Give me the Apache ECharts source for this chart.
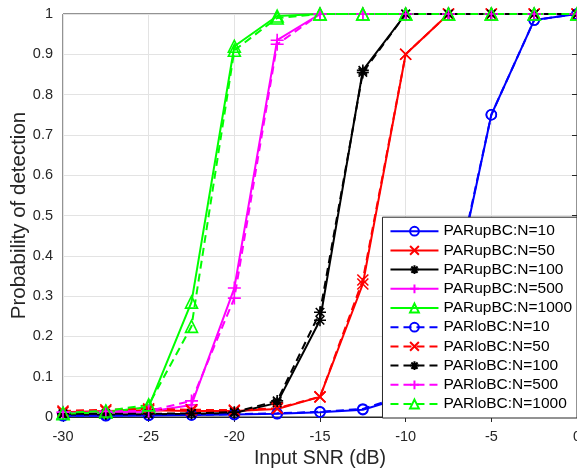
<!DOCTYPE html>
<html>
<head>
<meta charset="utf-8">
<script src="https://cdn.jsdelivr.net/npm/echarts@6/dist/echarts.min.js"></script>
<style>
html,body{margin:0;padding:0;background:#fff;}
#chart{width:577px;height:470px;}
</style>
</head>
<body>
<div id="chart"></div>
<script>
// ---- data ----
const snr = [-30, -27.5, -25, -22.5, -20, -17.5, -15, -12.5, -10, -7.5, -5, -2.5, 0];
const xTicks = [-30, -25, -20, -15, -10, -5, 0];
const yTicks = [0, 0.1, 0.2, 0.3, 0.4, 0.5, 0.6, 0.7, 0.8, 0.9, 1];

const upN10   = [0.003, 0.003, 0.004, 0.005, 0.006, 0.008, 0.012, 0.018, 0.05, 0.25, 0.75, 0.985, 1];
const upN50   = [0.012, 0.015, 0.017, 0.015, 0.015, 0.02, 0.05, 0.33, 0.9, 1, 1, 1, 1];
const upN100  = [0.006, 0.006, 0.007, 0.008, 0.01, 0.035, 0.24, 0.86, 1, 1, 1, 1, 1];
const upN500  = [0.01, 0.012, 0.013, 0.03, 0.32, 0.935, 1, 1, 1, 1, 1, 1, 1];
const upN1000 = [0.008, 0.012, 0.025, 0.285, 0.92, 0.995, 1, 1, 1, 1, 1, 1, 1];

const loN10   = [0.004, 0.004, 0.005, 0.005, 0.007, 0.009, 0.013, 0.02, 0.055, 0.26, 0.75, 0.985, 1];
const loN50   = [0.015, 0.018, 0.02, 0.018, 0.017, 0.022, 0.05, 0.34, 0.9, 1, 1, 1, 1];
const loN100  = [0.008, 0.008, 0.008, 0.009, 0.012, 0.04, 0.26, 0.855, 1, 1, 1, 1, 1];
const loN500  = [0.012, 0.014, 0.015, 0.04, 0.295, 0.925, 1, 1, 1, 1, 1, 1, 1];
const loN1000 = [0.01, 0.015, 0.03, 0.225, 0.91, 0.99, 1, 1, 1, 1, 1, 1, 1];

const names = ['PARupBC:N=10','PARupBC:N=50','PARupBC:N=100','PARupBC:N=500','PARupBC:N=1000',
               'PARloBC:N=10','PARloBC:N=50','PARloBC:N=100','PARloBC:N=500','PARloBC:N=1000'];
const values = [upN10, upN50, upN100, upN500, upN1000, loN10, loN50, loN100, loN500, loN1000];

// ---- styles ----
const colors = ['#0000ff', '#ff0000', '#000000', '#ff00ff', '#00ff00'];
const plusPath = 'path://M0,5L10,5M5,0L5,10';
const xPath = 'path://M0,0L10,10M0,10L10,0';
const starPath = 'path://M0,5L10,5M5,0L5,10M1.46,1.46L8.54,8.54M1.46,8.54L8.54,1.46';
const symbols = ['circle', xPath, starPath, plusPath, 'triangle'];
const symSizes = [10, 11, 12, 13, 12];

const series = values.map((vals, i) => {
  const k = i % 5;
  const dashed = i >= 5;
  return {
    name: names[i],
    type: 'line',
    data: snr.map((x, j) => [x, vals[j]]),
    symbol: symbols[k],
    symbolSize: symSizes[k],
    showAllSymbol: true,
    clip: false,
    itemStyle: { color: 'rgba(0,0,0,0)', borderColor: colors[k], borderWidth: 1.6 },
    lineStyle: { color: colors[k], width: 2, type: dashed ? [8, 5] : 'solid' },
    emphasis: { disabled: true },
    animation: false,
    z: 2
  };
});

const axisColor = '#262626';
const chart = echarts.init(document.getElementById('chart'), null, { renderer: 'canvas' });
chart.setOption({
  backgroundColor: '#fff',
  animation: false,
  grid: { left: 63, right: 0, top: 14, bottom: 53, containLabel: false, outerBoundsMode: 'none',
          show: true, borderColor: axisColor, borderWidth: 1, backgroundColor: 'transparent' },
  xAxis: [{
    type: 'value', min: -30, max: 0, interval: 5,
    name: 'Input SNR (dB)', nameLocation: 'middle', nameGap: 32, nameMoveOverlap: false,
    nameTextStyle: { fontFamily: 'Liberation Sans', fontSize: 19.5, color: axisColor },
    axisLine: { show: true, lineStyle: { color: axisColor, width: 1 } },
    axisTick: { show: true, inside: true, length: 5, lineStyle: { color: axisColor } },
    axisLabel: { fontFamily: 'Liberation Sans', fontSize: 14.5, color: axisColor, margin: 12,
      formatter: v => { const t = xTicks.find(q => Math.abs(q - v) < 1e-9); return t === undefined ? '' : String(t); } },
    splitLine: { show: true, lineStyle: { color: '#e3e3e3', width: 1 } }
  }, {
    type: 'value', min: -30, max: 0, interval: 5, position: 'top',
    axisLine: { show: true, lineStyle: { color: axisColor } },
    axisTick: { show: true, inside: true, length: 5, lineStyle: { color: axisColor } },
    axisLabel: { show: false }, splitLine: { show: false }
  }],
  yAxis: [{
    type: 'value', min: 0, max: 1, interval: 0.1,
    name: 'Probability of detection', nameLocation: 'middle', nameGap: 33, nameMoveOverlap: false,
    nameTextStyle: { fontFamily: 'Liberation Sans', fontSize: 20.5, color: axisColor },
    axisLine: { show: true, lineStyle: { color: axisColor, width: 1 } },
    axisTick: { show: true, inside: true, length: 5, lineStyle: { color: axisColor } },
    axisLabel: { fontFamily: 'Liberation Sans', fontSize: 14.5, color: axisColor, margin: 10,
      formatter: v => { const t = yTicks.find(q => Math.abs(q - v) < 1e-9); return t === undefined ? '' : String(t); } },
    splitLine: { show: true, lineStyle: { color: '#e3e3e3', width: 1 } }
  }, {
    type: 'value', min: 0, max: 1, interval: 0.1, position: 'right',
    axisLine: { show: true, lineStyle: { color: axisColor } },
    axisTick: { show: true, inside: true, length: 5, lineStyle: { color: axisColor } },
    axisLabel: { show: false }, splitLine: { show: false }
  }],
  legend: {
    orient: 'vertical', right: 0, bottom: 52, z: 50,
    backgroundColor: '#fff', borderColor: axisColor, borderWidth: 1,
    padding: [6, 5, 6, 7],
    itemWidth: 48, itemHeight: 11, itemGap: 3.2,
    textStyle: { fontFamily: 'Liberation Sans', fontSize: 15.5, color: '#000', padding: [0, 0, 0, 0] },
    data: names,
    selectedMode: false
  },
  series: series
});
</script>
</body>
</html>
